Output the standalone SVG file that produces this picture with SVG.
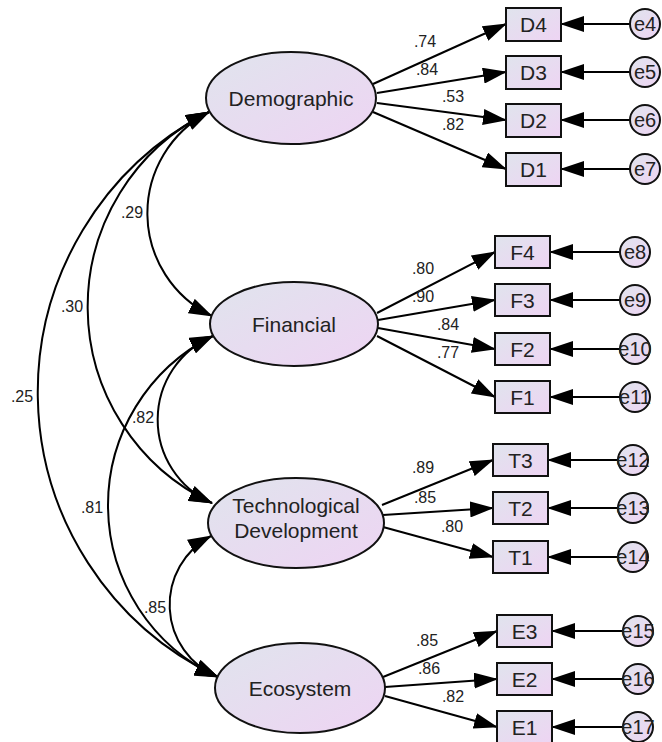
<svg xmlns="http://www.w3.org/2000/svg" width="662" height="742" viewBox="0 0 662 742">
<defs>
<linearGradient id="g" x1="0" y1="0" x2="1" y2="1">
<stop offset="0" stop-color="#e0e4ed"/>
<stop offset="1" stop-color="#eed4f3"/>
</linearGradient>
<marker id="ah" markerUnits="userSpaceOnUse" markerWidth="24" markerHeight="16" viewBox="0 0 24 16" refX="23" refY="8" orient="auto-start-reverse">
<path d="M0,0 L24,8 L0,16 z" fill="#000"/>
</marker>
<style>
.n{fill:url(#g);stroke:#111;stroke-width:2}
.t{font-family:"Liberation Sans",Arial,sans-serif;font-size:21px;fill:#222;text-anchor:middle}
.e{font-family:"Liberation Sans",Arial,sans-serif;font-size:20px;fill:#222;text-anchor:middle}
.l{font-family:"Liberation Sans",Arial,sans-serif;font-size:16px;fill:#222;text-anchor:middle}
.c line,.c path{stroke:#000;stroke-width:2;fill:none;marker-end:url(#ah)}
.c path.b{marker-start:url(#ah)}
</style>
</defs>
<rect width="662" height="742" fill="#fff"/>

<g id="connectors" class="c">
<!-- loadings -->
<line x1="373" y1="84" x2="506" y2="24"/>
<line x1="377" y1="93" x2="506" y2="72"/>
<line x1="377" y1="103" x2="506" y2="120"/>
<line x1="373" y1="112" x2="506" y2="169"/>
<line x1="377" y1="313" x2="495" y2="252"/>
<line x1="378" y1="320" x2="495" y2="300"/>
<line x1="378" y1="328" x2="495" y2="349"/>
<line x1="377" y1="336" x2="495" y2="397"/>
<line x1="382" y1="505" x2="493" y2="460"/>
<line x1="383" y1="515" x2="493" y2="508"/>
<line x1="383" y1="527" x2="493" y2="557"/>
<line x1="383" y1="677" x2="497" y2="631"/>
<line x1="385" y1="687" x2="497" y2="679"/>
<line x1="385" y1="696" x2="497" y2="727"/>
<!-- errors -->
<line x1="630" y1="24" x2="561" y2="24"/>
<line x1="630" y1="72" x2="561" y2="72"/>
<line x1="630" y1="120" x2="561" y2="120"/>
<line x1="630" y1="169" x2="561" y2="169"/>
<line x1="620" y1="252" x2="550" y2="252"/>
<line x1="620" y1="300" x2="550" y2="300"/>
<line x1="620" y1="349" x2="550" y2="349"/>
<line x1="620" y1="397" x2="550" y2="397"/>
<line x1="618" y1="460" x2="548" y2="460"/>
<line x1="618" y1="508" x2="548" y2="508"/>
<line x1="618" y1="557" x2="548" y2="557"/>
<line x1="623" y1="631" x2="552" y2="631"/>
<line x1="623" y1="679" x2="552" y2="679"/>
<line x1="623" y1="727" x2="552" y2="727"/>
<!-- covariances -->
<path class="b" d="M209,112 A114,114 0 0 0 212,316"/>
<path class="b" d="M209,112 A217,217 0 0 0 212,503"/>
<path class="b" d="M209,112 A315,315 0 0 0 218,677"/>
<path class="b" d="M213,336 A91,91 0 0 0 212,503"/>
<path class="b" d="M213,336 A189,189 0 0 0 218,677"/>
<path class="b" d="M211,536 A78,78 0 0 0 218,677"/>
</g>

<g id="labels">
<text class="l" x="425" y="47">.74</text>
<text class="l" x="427" y="75">.84</text>
<text class="l" x="453" y="102">.53</text>
<text class="l" x="453" y="130">.82</text>
<text class="l" x="423" y="274">.80</text>
<text class="l" x="423" y="302">.90</text>
<text class="l" x="448" y="330">.84</text>
<text class="l" x="448" y="358">.77</text>
<text class="l" x="423" y="473">.89</text>
<text class="l" x="425" y="503">.85</text>
<text class="l" x="452" y="532">.80</text>
<text class="l" x="427" y="646">.85</text>
<text class="l" x="429" y="674">.86</text>
<text class="l" x="453" y="702">.82</text>
<text class="l" x="132" y="218">.29</text>
<text class="l" x="72" y="312">.30</text>
<text class="l" x="22" y="402">.25</text>
<text class="l" x="143" y="423">.82</text>
<text class="l" x="92" y="513">.81</text>
<text class="l" x="155" y="613">.85</text>
</g>

<g id="Demographic"><ellipse class="n" cx="291" cy="98" rx="85" ry="46"/><text class="t" x="291" y="105.5">Demographic</text></g>
<g id="Financial"><ellipse class="n" cx="294" cy="324" rx="84" ry="42"/><text class="t" x="294" y="331.5">Financial</text></g>
<g id="TechnologicalDevelopment"><ellipse class="n" cx="296" cy="523" rx="88" ry="45"/><text class="t" x="296" y="513">Technological</text><text class="t" x="296" y="538">Development</text></g>
<g id="Ecosystem"><ellipse class="n" cx="300" cy="688" rx="85" ry="45"/><text class="t" x="300" y="695.5">Ecosystem</text></g>

<g id="D4"><rect class="n" x="506" y="8" width="55" height="33"/><text class="t" x="533.5" y="32">D4</text></g>
<g id="D3"><rect class="n" x="506" y="56" width="55" height="33"/><text class="t" x="533.5" y="80">D3</text></g>
<g id="D2"><rect class="n" x="506" y="104" width="55" height="33"/><text class="t" x="533.5" y="128">D2</text></g>
<g id="D1"><rect class="n" x="506" y="153" width="55" height="33"/><text class="t" x="533.5" y="177">D1</text></g>
<g id="F4"><rect class="n" x="495" y="236" width="55" height="32"/><text class="t" x="522.5" y="259.5">F4</text></g>
<g id="F3"><rect class="n" x="495" y="284" width="55" height="32"/><text class="t" x="522.5" y="307.5">F3</text></g>
<g id="F2"><rect class="n" x="495" y="333" width="55" height="32"/><text class="t" x="522.5" y="356.5">F2</text></g>
<g id="F1"><rect class="n" x="495" y="381" width="55" height="32"/><text class="t" x="522.5" y="404.5">F1</text></g>
<g id="T3"><rect class="n" x="493" y="444" width="55" height="32"/><text class="t" x="520.5" y="467.5">T3</text></g>
<g id="T2"><rect class="n" x="493" y="492" width="55" height="32"/><text class="t" x="520.5" y="515.5">T2</text></g>
<g id="T1"><rect class="n" x="493" y="541" width="55" height="32"/><text class="t" x="520.5" y="564.5">T1</text></g>
<g id="E3"><rect class="n" x="497" y="615" width="55" height="32"/><text class="t" x="524.5" y="638.5">E3</text></g>
<g id="E2"><rect class="n" x="497" y="663" width="55" height="32"/><text class="t" x="524.5" y="686.5">E2</text></g>
<g id="E1"><rect class="n" x="497" y="711" width="55" height="32"/><text class="t" x="524.5" y="734.5">E1</text></g>

<g id="e4"><circle class="n" cx="645" cy="24" r="15"/><text class="e" x="645" y="31">e4</text></g>
<g id="e5"><circle class="n" cx="645" cy="72" r="15"/><text class="e" x="645" y="79">e5</text></g>
<g id="e6"><circle class="n" cx="645" cy="120" r="15"/><text class="e" x="645" y="127">e6</text></g>
<g id="e7"><circle class="n" cx="645" cy="169" r="15"/><text class="e" x="645" y="176">e7</text></g>
<g id="e8"><circle class="n" cx="635" cy="252" r="15"/><text class="e" x="635" y="259">e8</text></g>
<g id="e9"><circle class="n" cx="635" cy="300" r="15"/><text class="e" x="635" y="307">e9</text></g>
<g id="e10"><circle class="n" cx="635" cy="349" r="15"/><text class="e" x="635" y="356">e10</text></g>
<g id="e11"><circle class="n" cx="635" cy="397" r="15"/><text class="e" x="635" y="404">e11</text></g>
<g id="e12"><circle class="n" cx="633" cy="460" r="15"/><text class="e" x="633" y="467">e12</text></g>
<g id="e13"><circle class="n" cx="633" cy="508" r="15"/><text class="e" x="633" y="515">e13</text></g>
<g id="e14"><circle class="n" cx="633" cy="557" r="15"/><text class="e" x="633" y="564">e14</text></g>
<g id="e15"><circle class="n" cx="638" cy="631" r="15"/><text class="e" x="638" y="638">e15</text></g>
<g id="e16"><circle class="n" cx="638" cy="679" r="15"/><text class="e" x="638" y="686">e16</text></g>
<g id="e17"><circle class="n" cx="638" cy="727" r="15"/><text class="e" x="638" y="734">e17</text></g>
</svg>
